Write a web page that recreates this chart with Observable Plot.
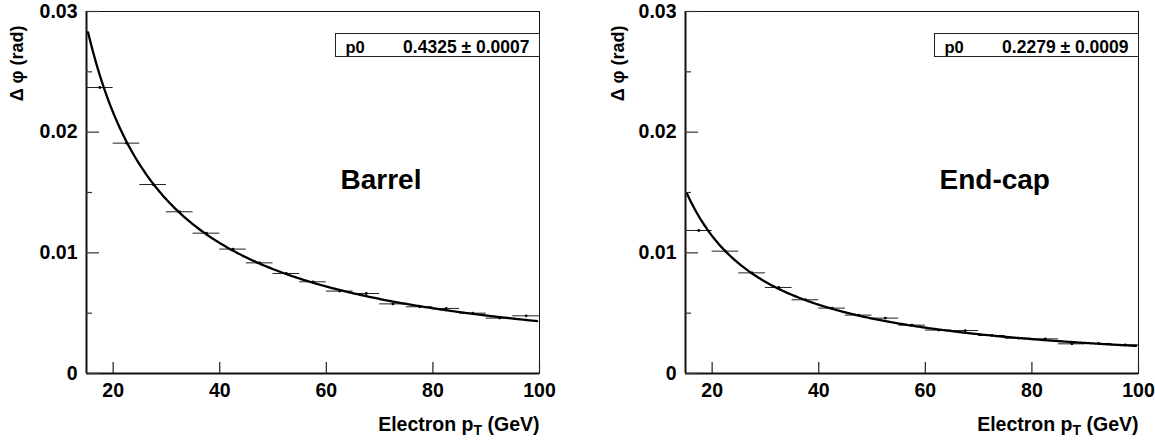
<!DOCTYPE html>
<html><head><meta charset="utf-8">
<script src="https://cdn.jsdelivr.net/npm/d3@7"></script>
<script src="https://cdn.jsdelivr.net/npm/@observablehq/plot@0.6"></script>
<style>
body{margin:0;background:#fff;}
#wrap{display:flex;width:1155px;height:440px;background:#fff;}
</style></head><body><div id="wrap"></div>
<script>
// ---- data ----
const binEdges = [15, 20, 25, 30, 35, 40, 45, 50, 55, 60, 65, 70, 75, 80, 85, 90, 95, 100];
const barrelValues = [0.02370, 0.01909, 0.01566, 0.01340, 0.01163, 0.01031, 0.00917, 0.00829, 0.00760, 0.00683, 0.00663, 0.00577, 0.00553, 0.00539, 0.00500, 0.00459, 0.00478];
const endcapValues = [0.01185, 0.01014, 0.00834, 0.00713, 0.00611, 0.00542, 0.00484, 0.00459, 0.00401, 0.00360, 0.00356, 0.00315, 0.00293, 0.00287, 0.00246, 0.00249, 0.00238];
const barrelP0 = "0.4325", barrelP0Err = "0.0007";
const endcapP0 = "0.2279", endcapP0Err = "0.0009";
const panelNames = ["Barrel", "End-cap"];
const xTicks = [20, 40, 60, 80, 100];
const yMajorTicks = [0, 0.01, 0.02, 0.03];
const yMinorTicks = [0.005, 0.015, 0.025];
const xLabelMain = "Electron p", xLabelSub = "T", xLabelTail = " (GeV)";
const yLabel = "\u0394 \u03c6 (rad)";
const fitRange = [15.3, 99.7];
const paramName = "p0";

// ---- drawing ----
const H = 440, MT = 11, MB = 67;
const FONT = "'Liberation Sans', Arial, Helvetica, sans-serif";

function panel(values, p0, p0err, name, width, ml, mr, yLabelDx) {
  const rows = values.map((v, i) => ({lo: binEdges[i], hi: binEdges[i + 1], c: (binEdges[i] + binEdges[i + 1]) / 2, v}));
  const p0num = +p0;
  const curve = d3.range(fitRange[0], fitRange[1] + 1e-9, 0.25).map(x => ({x, y: p0num / x}));
  const W = width - ml - mr;
  const PH = H - MT - MB;
  const xFull = "Electron pT (GeV)";
  const svg = Plot.plot({
    width, height: H, marginLeft: ml, marginRight: mr, marginTop: MT, marginBottom: MB,
    style: {fontFamily: FONT, background: "#fff", color: "#000"},
    x: {domain: [binEdges[0], binEdges[binEdges.length - 1]]},
    y: {domain: [0, 0.03]},
    marks: [
      Plot.frame({stroke: "#111", strokeWidth: 1}),
      Plot.ruleX([binEdges[0]], {stroke: "#111", strokeWidth: 2}),
      Plot.ruleY([0], {stroke: "#111", strokeWidth: 2}),
      Plot.tickX(xTicks, {x: d => d, insetTop: PH - 11, stroke: "#222", strokeWidth: 1.2}),
      Plot.tickY(yMajorTicks, {y: d => d, insetRight: W - 13, stroke: "#333", strokeWidth: 1.2}),
      Plot.tickY(yMinorTicks, {y: d => d, insetRight: W - 6, stroke: "#333", strokeWidth: 1.2}),
      Plot.axisX({ticks: xTicks, tickSize: 0, tickPadding: 10, fontSize: 19.5, fontWeight: "bold", label: null}),
      Plot.axisY({ticks: yMajorTicks, tickSize: 0, tickPadding: 9, fontSize: 19.5, fontWeight: "bold", label: null,
        tickFormat: d => d === 0 ? "0" : d.toFixed(2)}),
      Plot.ruleY(rows, {y: "v", x1: "lo", x2: "hi", stroke: "#222", strokeWidth: 1}),
      Plot.dot(rows, {x: "c", y: "v", r: 1.4, fill: "#000", stroke: null}),
      Plot.line(curve, {x: "x", y: "y", stroke: "#000", strokeWidth: 2.3}),
      // stats box
      Plot.frame({insetLeft: W - 204, insetTop: 22, insetBottom: PH - 45, stroke: "#222", strokeWidth: 1}),
      Plot.text([paramName], {frameAnchor: "top-right", dx: -194, dy: 41, textAnchor: "start", lineAnchor: "bottom", fontSize: 16.5, fontWeight: "bold"}),
      Plot.text([`${p0} \u00b1 ${p0err}`], {frameAnchor: "top-right", dx: -10, dy: 41, textAnchor: "end", lineAnchor: "bottom", fontSize: 17.5, fontWeight: "bold"}),
      // panel name
      Plot.text([name], {frameAnchor: "top-left", dx: 254, dy: 177, textAnchor: "start", lineAnchor: "bottom", fontSize: 28, fontWeight: "bold"}),
      // axis titles
      Plot.text([xFull], {frameAnchor: "bottom-right", dx: 0, dy: 57, textAnchor: "end", lineAnchor: "bottom", fontSize: 19.5, fontWeight: "bold"}),
      Plot.text([yLabel], {frameAnchor: "top-left", dx: yLabelDx, dy: 14, rotate: -90, textAnchor: "end", lineAnchor: "middle", fontSize: 18, fontWeight: "bold"})
    ]
  });
  d3.select(svg).selectAll("text").filter(function () { return this.textContent === xFull; }).each(function () {
    const t = d3.select(this);
    t.text(null);
    t.append("tspan").text(xLabelMain);
    t.append("tspan").attr("dy", "0.35em").attr("font-size", "0.72em").text(xLabelSub);
    t.append("tspan").attr("dy", "-0.25em").text(xLabelTail);
  });
  return svg;
}

const wrap = document.getElementById("wrap");
wrap.append(panel(barrelValues, barrelP0, barrelP0Err, panelNames[0], 577, 86, 38, -69));
wrap.append(panel(endcapValues, endcapP0, endcapP0Err, panelNames[1], 578, 108, 17, -67));
</script></body></html>
